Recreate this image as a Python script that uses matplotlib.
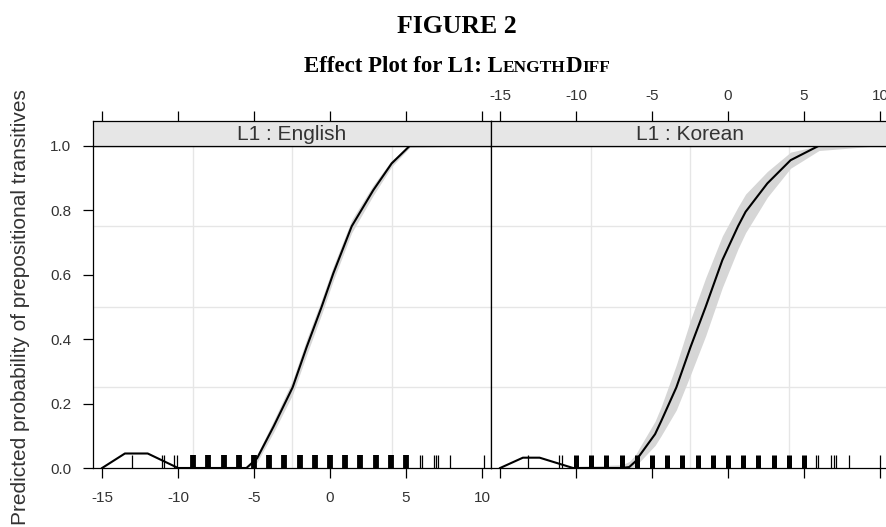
import matplotlib
matplotlib.use("Agg")
import matplotlib.pyplot as plt

# ---------------- data ----------------
panels = ["L1 : English", "L1 : Korean"]
x_ticks = [-15, -10, -5, 0, 5, 10]
y_ticks = [0.0, 0.2, 0.4, 0.6, 0.8, 1.0]
y_tick_labels = ["0.0", "0.2", "0.4", "0.6", "0.8", "1.0"]

# English fitted curve and confidence band
x_en = [-15, -13.5, -12.0, -10.0, -5.5, -4.8, -3.7, -2.46, -1.53, -0.55, 0.22, 1.43, 2.85, 4.06, 5.26, 10.0]
fit_en = [0.0, 0.045, 0.045, 0.0, 0.0, 0.03, 0.13, 0.25, 0.376, 0.5, 0.604, 0.75, 0.862, 0.945, 1.0, 1.0]
lo_en = [0.0, 0.045, 0.045, 0.0, 0.0, 0.018, 0.112, 0.228, 0.352, 0.477, 0.582, 0.73, 0.846, 0.935, 0.995, 1.0]
hi_en = [0.0, 0.045, 0.045, 0.0, 0.0, 0.042, 0.148, 0.272, 0.4, 0.523, 0.626, 0.77, 0.878, 0.955, 1.0, 1.0]

# Korean fitted curve and confidence band
x_ko = [-15, -13.5, -12.4, -10.2, -9.8, -7.0, -6.5, -6.1, -5.8, -4.8, -4.4, -3.4, -2.46, -1.47, -0.37, 0.66, 1.16, 2.59, 4.12, 5.99, 10.0]
fit_ko = [0.0, 0.032, 0.032, 0.0, 0.0, 0.0, 0.003, 0.02, 0.04, 0.105, 0.145, 0.25, 0.376, 0.5, 0.645, 0.75, 0.795, 0.883, 0.955, 1.0, 1.0]
lo_ko = [0.0, 0.032, 0.032, 0.0, 0.0, 0.0, 0.0, 0.005, 0.02, 0.07, 0.1, 0.18, 0.29, 0.41, 0.56, 0.68, 0.73, 0.84, 0.93, 0.985, 1.0]
hi_ko = [0.0, 0.032, 0.032, 0.0, 0.005, 0.01, 0.02, 0.04, 0.065, 0.145, 0.19, 0.32, 0.46, 0.59, 0.72, 0.81, 0.85, 0.92, 0.98, 1.0, 1.0]

# rug (observed LengthDiff values)
rug_thick_en = [-9, -8, -7, -6, -5, -4, -3, -2, -1, 0, 1, 2, 3, 4, 5]
rug_thin_en = [-13.05, -11.07, -10.92, -10.26, -10.04, 5.92, 6.05, 6.86, 6.95, 7.08, 7.9, 10.13]
rug_thick_ko = [-10, -9, -8, -7, -6, -5, -4, -3, -2, -1, 0, 1, 2, 3, 4, 5]
rug_thin_ko = [-13.14, -11.12, -10.94, 5.81, 5.94, 6.76, 7.0, 7.08, 7.96, 10.04]

# ---------------- figure ----------------
W, H = 886, 527
fig = plt.figure(figsize=(W / 100, H / 100), dpi=100)
SANS = "Liberation Sans"
SERIF = "Liberation Serif"
TXT = "#333333"

XLIM = (-15.6, 10.6)
plot_top, plot_bot = 145.7, 468.0
strip_top = 120.7
lefts = [93.0, 491.0]
pw = 398.0

series = [
    (x_en, fit_en, lo_en, hi_en, rug_thick_en, rug_thin_en, 4.2),
    (x_ko, fit_ko, lo_ko, hi_ko, rug_thick_ko, rug_thin_ko, 3.6),
]

for i, (lx, (xs, fit, lo, hi, rthick, rthin, rw)) in enumerate(zip(lefts, series)):
    ax = fig.add_axes([lx / W, 1 - plot_bot / H, pw / W, (plot_bot - plot_top) / H])
    ax.set_xlim(*XLIM)
    ax.set_ylim(0, 1)
    for f in (0.25, 0.5, 0.75):
        ax.plot([f, f], [0, 1], transform=ax.transAxes, color="#e6e6e6", lw=1.0, zorder=0)
        ax.plot([0, 1], [f, f], transform=ax.transAxes, color="#e6e6e6", lw=1.0, zorder=0)
    ax.fill_between(xs, lo, hi, color="#d6d6d6", lw=0, zorder=1)
    ax.plot(xs, fit, color="black", lw=1.5, zorder=3)
    ax.vlines(rthick, 0, 0.04, color="black", lw=rw, zorder=2)
    ax.vlines(rthin, 0, 0.04, color="black", lw=0.9, zorder=2)
    for s in ax.spines.values():
        s.set_linewidth(0.9)
        s.set_color("black")
    ax.set_xticks(x_ticks)
    ax.tick_params(axis="x", direction="out", length=7.5, width=0.9, colors="black",
                   labelcolor=TXT, labelsize=11, pad=9)
    ax.set_xticklabels([str(t) for t in x_ticks], family=SANS)
    if i == 0:
        ax.set_yticks(y_ticks)
        ax.set_yticklabels(y_tick_labels, family=SANS)
        ax.tick_params(axis="y", direction="out", length=7.5, width=0.9, colors="black",
                       labelcolor=TXT, labelsize=11, pad=8)
    else:
        ax.tick_params(axis="y", left=False, labelleft=False)
        ax.tick_params(axis="x", labelbottom=False)

    # strip
    st = fig.add_axes([lx / W, 1 - plot_top / H, pw / W, (plot_top - strip_top) / H])
    st.set_facecolor("#e6e6e6")
    st.set_xlim(*XLIM)
    st.set_ylim(0, 1)
    for s in st.spines.values():
        s.set_linewidth(0.9)
        s.set_color("black")
    st.set_yticks([])
    st.set_xticks(x_ticks)
    st.tick_params(axis="x", bottom=False, labelbottom=False, top=True,
                   labeltop=(i == 1), direction="out", length=7.5, width=0.9,
                   colors="black", labelcolor=TXT, labelsize=11, pad=5)
    st.set_xticklabels([str(t) for t in x_ticks], family=SANS)
    st.text(0.5, 0.45, panels[i], transform=st.transAxes, ha="center", va="center",
            fontsize=15, family=SANS, color=TXT)

# y label
fig.text(21 / W, 1 - 307 / H, "Predicted probability of prepositional transitives",
         rotation=90, ha="center", va="center", fontsize=15, family=SANS, color=TXT)

# titles
cx = 457 / W
fig.text(cx, 1 - 33 / H, "FIGURE 2", ha="center", va="baseline",
         fontsize=18.5, fontweight="bold", family=SERIF, color="black")

r = fig.canvas.get_renderer()
pieces = [("Effect Plot for L1: L", 16.5), ("ENGTH", 12.5), ("D", 16.5), ("IFF", 12.5)]
texts = []
for s, fs in pieces:
    t = fig.text(0, 1 - 72 / H, s, fontsize=fs, fontweight="bold", family=SERIF,
                 va="baseline", ha="left", color="black")
    texts.append(t)
widths = [t.get_window_extent(r).width for t in texts]
xpos = cx * W - sum(widths) / 2
for t, w in zip(texts, widths):
    t.set_x(xpos / W)
    xpos += w

fig.savefig("out.png", dpi=100)
